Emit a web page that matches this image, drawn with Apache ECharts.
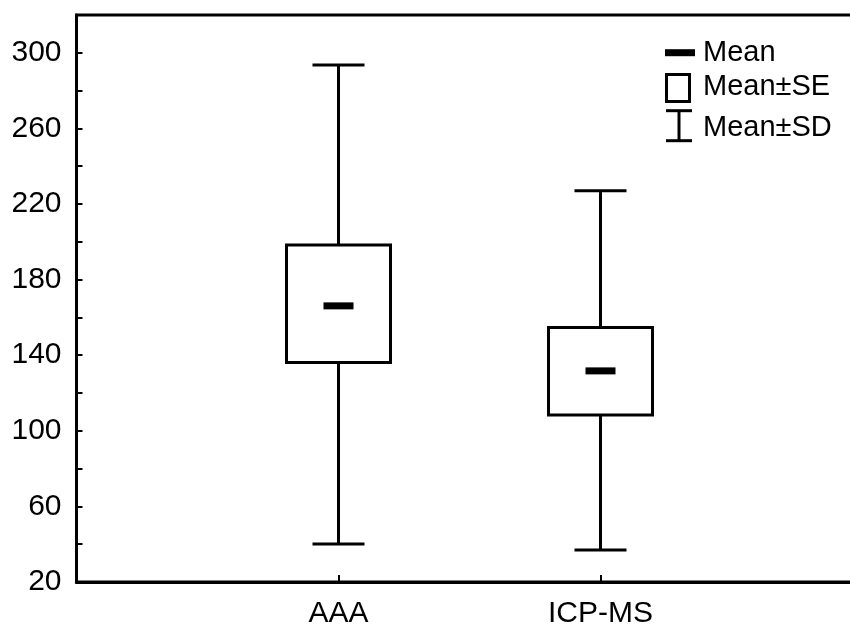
<!DOCTYPE html>
<html>
<head>
<meta charset="utf-8">
<script src="https://cdn.jsdelivr.net/npm/echarts@6/dist/echarts.min.js"></script>
<style>
html,body{margin:0;padding:0;background:#fff;}
#chart{width:850px;height:625px;}
</style>
</head>
<body>
<div id="chart"></div>
<script>
// ---- data ----
const categories = ['AAA', 'ICP-MS'];
const means  = [166.1, 131.7];
const seLow  = [136.1, 108.4];
const seHigh = [198.3, 154.7];
const sdLow  = [40.1, 36.9];
const sdHigh = [293.5, 227.0];
const yTickLabels = [20, 60, 100, 140, 180, 220, 260, 300];

// ---- styles ----
const FONT = "'Liberation Sans', Arial, sans-serif";
const BOX_W = 104, CAP_W = 52, MEAN_W = 30, MEAN_H = 7, LW = 3;

const rows = categories.map((c, i) => [i + 1, sdLow[i], seLow[i], means[i], seHigh[i], sdHigh[i]]);

function renderItem(params, api) {
  const x = api.value(0);
  const yOf = v => api.coord([x, v])[1];
  const cx = api.coord([x, api.value(3)])[0];
  const ySdLo = yOf(api.value(1)), ySeLo = yOf(api.value(2)), yMean = yOf(api.value(3));
  const ySeHi = yOf(api.value(4)), ySdHi = yOf(api.value(5));
  const st = { stroke: '#000', lineWidth: LW, fill: null };
  return {
    type: 'group',
    children: [
      { type: 'line', shape: { x1: cx, y1: ySdHi, x2: cx, y2: ySdLo }, style: st },
      { type: 'line', shape: { x1: cx - CAP_W / 2, y1: ySdHi, x2: cx + CAP_W / 2, y2: ySdHi }, style: st },
      { type: 'line', shape: { x1: cx - CAP_W / 2, y1: ySdLo, x2: cx + CAP_W / 2, y2: ySdLo }, style: st },
      { type: 'rect', shape: { x: cx - BOX_W / 2, y: ySeHi, width: BOX_W, height: ySeLo - ySeHi },
        style: { fill: '#fff', stroke: '#000', lineWidth: LW } },
      { type: 'rect', shape: { x: cx - MEAN_W / 2, y: yMean - MEAN_H / 2, width: MEAN_W, height: MEAN_H },
        style: { fill: '#000' } }
    ]
  };
}

const chart = echarts.init(document.getElementById('chart'), null, { renderer: 'canvas' });
chart.setOption({
  animation: false,
  backgroundColor: '#fff',
  grid: { left: 76.5, right: -12.5, top: 15, bottom: 43, containLabel: false, outerBoundsMode: 'none',
    show: true, borderColor: '#000', borderWidth: LW, backgroundColor: 'transparent' },
  xAxis: {
    type: 'value', min: 0, max: categories.length + 1, interval: 1,
    axisLine: { show: true, lineStyle: { color: '#000', width: LW } },
    axisTick: { show: true, inside: true, length: 7, lineStyle: { color: '#000', width: 2 } },
    splitLine: { show: false },
    axisLabel: { margin: 17, color: '#000', fontSize: 30, fontFamily: FONT,
      formatter: v => categories[v - 1] || '' }
  },
  yAxis: {
    type: 'value', min: 20, max: 320, interval: 20,
    axisLine: { show: true, lineStyle: { color: '#000', width: LW } },
    axisTick: { show: true, inside: true, length: 6, lineStyle: { color: '#000', width: 2 } },
    splitLine: { show: false },
    axisLabel: { margin: 15, color: '#000', fontSize: 30, fontFamily: FONT,
      formatter: v => yTickLabels.includes(v) ? String(v) : '' }
  },
  series: [{
    type: 'custom',
    renderItem: renderItem,
    data: rows,
    encode: { x: 0, y: [1, 2, 3, 4, 5] },
    clip: false
  }],
  graphic: [
    { type: 'rect', shape: { x: 665, y: 49.2, width: 30, height: 7 }, style: { fill: '#000' } },
    { type: 'text', x: 703, y: 52.7, style: { text: 'Mean', font: '29px ' + FONT, fill: '#000', verticalAlign: 'middle' } },
    { type: 'rect', shape: { x: 666.5, y: 74.5, width: 23, height: 27 }, style: { fill: '#fff', stroke: '#000', lineWidth: 3 } },
    { type: 'text', x: 703, y: 87, style: { text: 'Mean±SE', font: '29px ' + FONT, fill: '#000', verticalAlign: 'middle' } },
    { type: 'line', shape: { x1: 666, y1: 110.7, x2: 692, y2: 110.7 }, style: { stroke: '#000', lineWidth: 3 } },
    { type: 'line', shape: { x1: 666, y1: 140.7, x2: 692, y2: 140.7 }, style: { stroke: '#000', lineWidth: 3 } },
    { type: 'line', shape: { x1: 679, y1: 110.7, x2: 679, y2: 140.7 }, style: { stroke: '#000', lineWidth: 3 } },
    { type: 'text', x: 703, y: 127.5, style: { text: 'Mean±SD', font: '29px ' + FONT, fill: '#000', verticalAlign: 'middle' } }
  ]
});
</script>
</body>
</html>
